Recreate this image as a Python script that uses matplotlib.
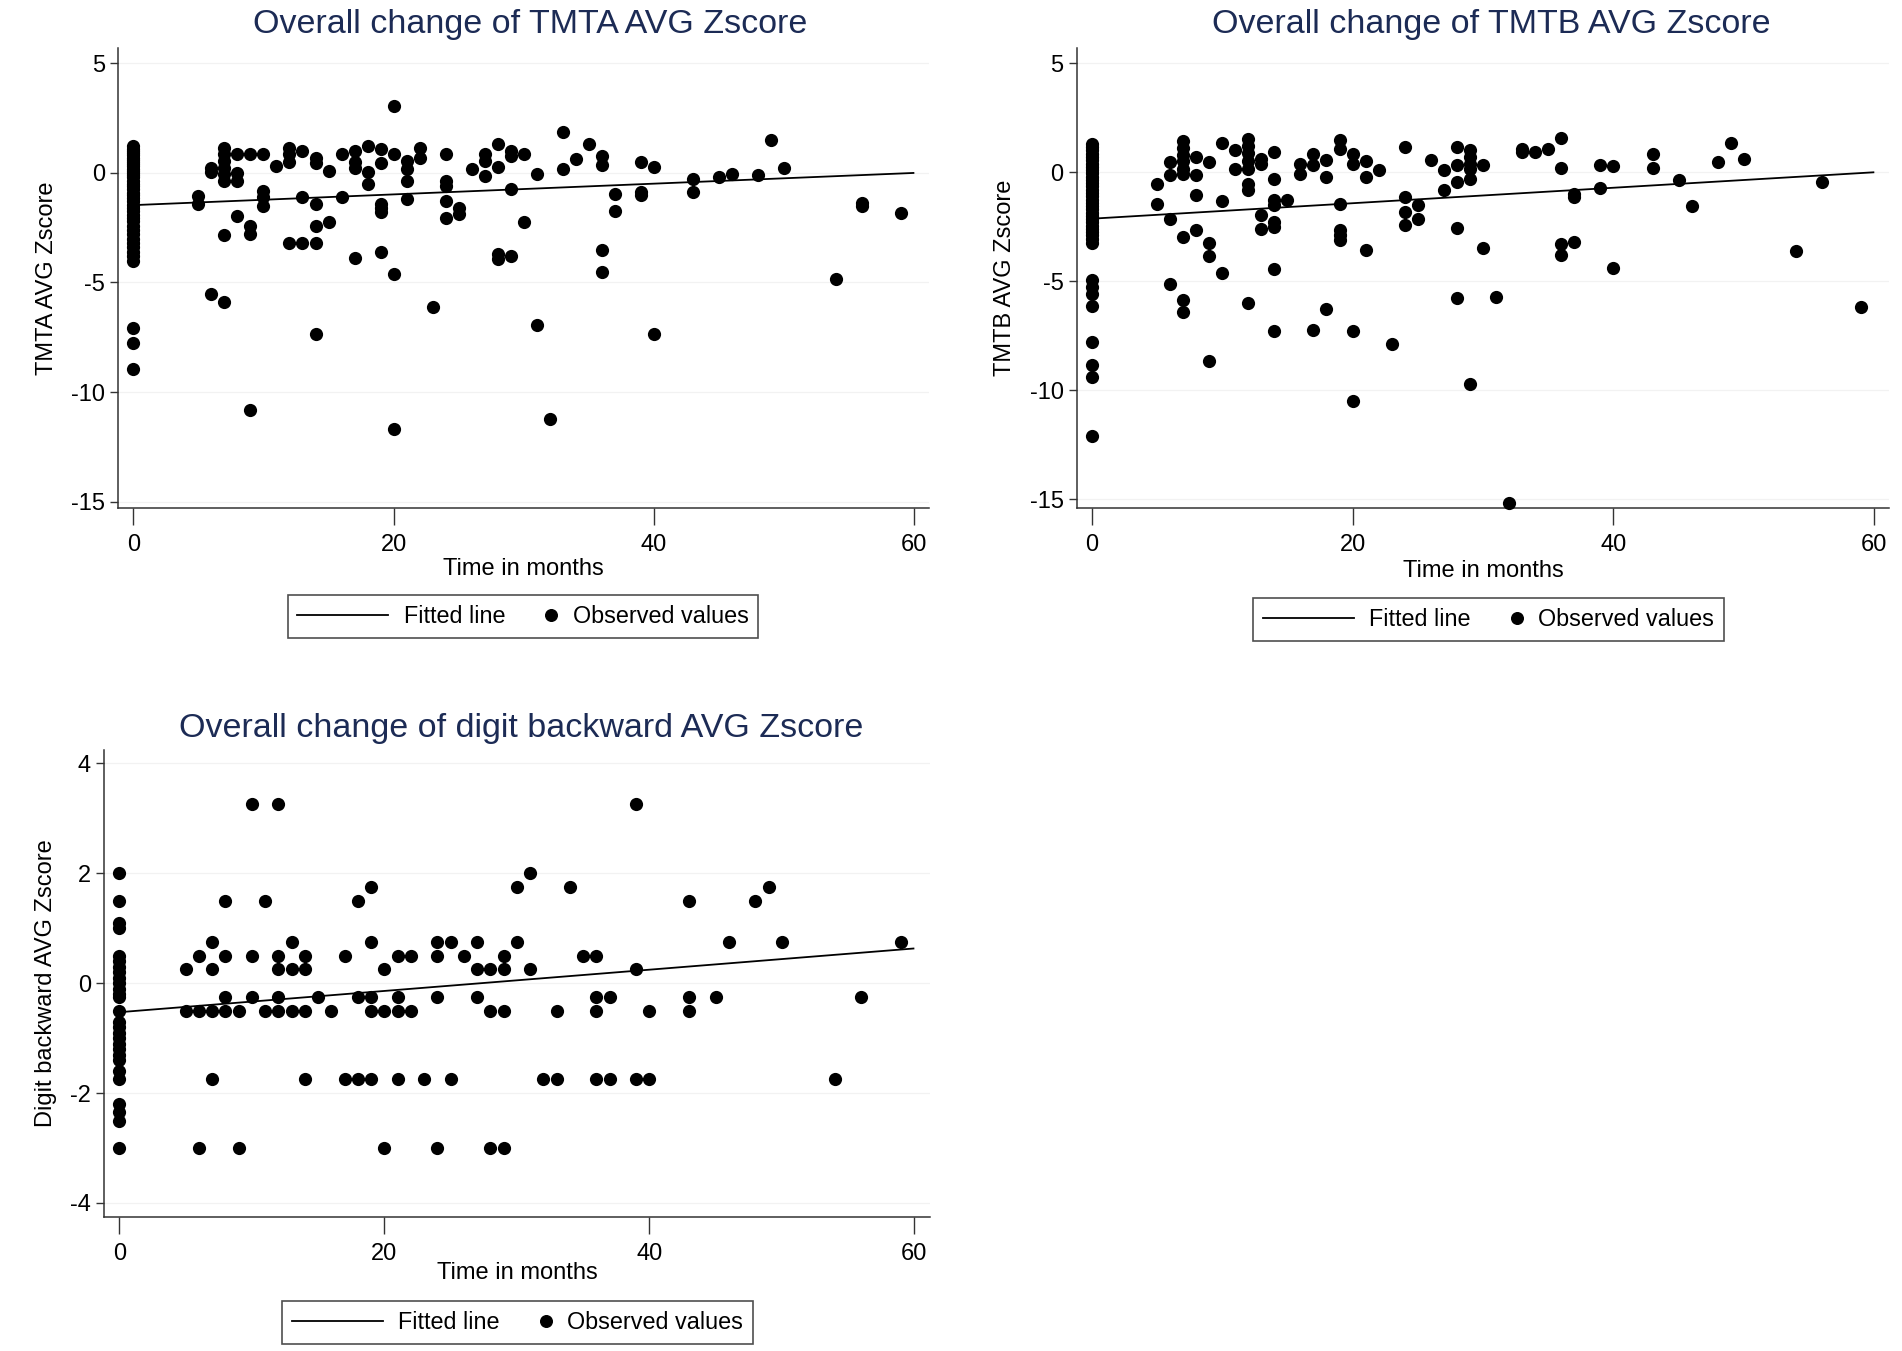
import matplotlib
matplotlib.use('Agg')
import matplotlib.pyplot as plt
from matplotlib.lines import Line2D
from matplotlib.legend_handler import HandlerBase

plt.rcParams['font.family'] = ['Liberation Sans', 'DejaVu Sans']
plt.rcParams['axes.unicode_minus'] = False

# ---------------- data ----------------
x_ticks = [0, 20, 40, 60]
fit_x = [0, 60]

# TMTA
tmta_months = [0, 5, 6, 7, 8, 9, 10, 11, 12, 13, 14, 15, 16, 17, 18, 19, 20, 21, 22, 23,
               24, 25, 26, 27, 28, 29, 30, 31, 32, 33, 34, 35, 36, 37, 39, 40, 43, 45,
               46, 48, 49, 50, 54, 56, 59]
tmta_values = [
    [1.25, 1.1, 1.0, 0.9, 0.8, 0.7, 0.6, 0.5, 0.4, 0.3, 0.2, 0.1, 0.0, -0.1, -0.2, -0.35,
     -0.5, -0.6, -0.75, -0.9, -1.0, -1.15, -1.3, -1.45, -1.6, -1.75, -1.9, -2.05, -2.2,
     -2.4, -2.6, -2.8, -3.0, -3.2, -3.4, -3.6, -3.8, -4.0, -7.08, -7.74, -8.95],
    [-1.05, -1.43],
    [0.24, 0.02, -5.53],
    [1.15, 0.85, 0.55, 0.24, -0.06, -0.36, -2.84, -5.91],
    [0.88, 0.0, -0.36, -1.96],
    [0.85, -2.42, -2.77, -10.82],
    [0.85, -0.82, -1.12, -1.53],
    [0.32],
    [1.15, 0.85, 0.5, -3.2],
    [1.0, -1.09, -3.2],
    [0.7, 0.47, -1.43, -2.42, -3.2, -7.36],
    [0.09, -2.26],
    [0.85, -1.12],
    [1.0, 0.5, 0.24, -3.89],
    [1.23, 0.02, -0.52],
    [1.08, 0.47, -1.43, -1.6, -1.8, -3.63],
    [3.05, 0.85, -4.62, -11.69],
    [0.55, 0.2, -0.36, -1.2],
    [1.15, 0.7],
    [-6.11],
    [0.88, -0.36, -0.6, -1.3, -2.04],
    [-1.58, -1.88],
    [0.2],
    [0.85, 0.55, -0.14],
    [1.34, 0.27, -3.7, -3.94],
    [1.0, 0.78, -0.74, -3.78],
    [0.85, -2.26],
    [-0.03, -6.93],
    [-11.23],
    [1.87, 0.2],
    [0.62],
    [1.34],
    [0.78, 0.36, -3.53, -4.5],
    [-0.97, -1.76],
    [0.52, -0.85, -1.0],
    [0.27, -7.36],
    [-0.29, -0.85],
    [-0.17],
    [-0.03],
    [-0.09],
    [1.52],
    [0.24],
    [-4.85],
    [-1.35, -1.5],
    [-1.85],
]
tmta_fit = [-1.47, 0.0]

# TMTB
tmtb_months = [0, 5, 6, 7, 8, 9, 10, 11, 12, 13, 14, 15, 16, 17, 18, 19, 20, 21, 22, 23,
               24, 25, 26, 27, 28, 29, 30, 31, 32, 33, 34, 35, 36, 37, 39, 40, 43, 45,
               46, 48, 49, 50, 54, 56, 59]
tmtb_values = [
    [1.3, 1.15, 1.0, 0.85, 0.7, 0.55, 0.4, 0.25, 0.1, -0.05, -0.2, -0.35, -0.5, -0.65,
     -0.8, -0.95, -1.1, -1.25, -1.4, -1.55, -1.7, -1.85, -2.0, -2.15, -2.3, -2.45, -2.6,
     -2.75, -2.9, -3.05, -3.25, -4.92, -5.26, -5.57, -6.15, -7.78, -8.85, -9.39, -12.1],
    [-0.52, -1.44],
    [0.47, -0.14, -2.13, -5.14],
    [1.45, 1.1, 0.8, 0.5, 0.15, -0.1, -2.97, -5.87, -6.4],
    [0.7, -0.14, -1.06, -2.63],
    [0.47, -3.23, -3.85, -8.67],
    [1.36, -1.33, -4.62],
    [1.0, 0.17],
    [1.51, 1.2, 0.9, 0.5, 0.17, -0.52, -0.83, -5.98],
    [0.63, 0.4, -1.97, -2.58],
    [0.93, -0.29, -1.28, -1.51, -2.28, -2.51, -4.45, -7.29],
    [-1.28],
    [0.4, -0.06],
    [0.86, 0.32, -7.25],
    [0.58, -0.21, -6.28],
    [1.5, 1.09, -1.47, -2.66, -2.89, -3.12],
    [0.86, 0.4, -7.29, -10.5],
    [0.52, -0.21, -3.55],
    [0.09],
    [-7.86],
    [1.16, -1.13, -1.82, -2.43],
    [-1.51, -2.13],
    [0.55],
    [0.09, -0.83],
    [1.16, 0.32, -0.44, -2.55, -5.76],
    [1.0, 0.7, 0.4, 0.15, -0.29, -9.72],
    [0.32, -3.46],
    [-5.72],
    [-15.17],
    [1.09, 0.93],
    [0.93],
    [1.05],
    [1.57, 0.2, -3.27, -3.81],
    [-1.01, -1.13, -3.2],
    [0.32, -0.7],
    [0.28, -4.39],
    [0.86, 0.2],
    [-0.37],
    [-1.54],
    [0.47],
    [1.35],
    [0.63],
    [-3.61],
    [-0.44],
    [-6.18],
]
tmtb_fit = [-2.13, 0.0]

# Digit backward
digit_months = [0, 5, 6, 7, 8, 9, 10, 11, 12, 13, 14, 15, 16, 17, 18, 19, 20, 21, 22, 23,
                24, 25, 26, 27, 28, 29, 30, 31, 32, 33, 34, 35, 36, 37, 39, 40, 43, 45,
                46, 48, 49, 50, 54, 56, 59]
digit_values = [
    [2.0, 1.5, 1.1, 1.0, 0.5, 0.4, 0.3, 0.2, 0.1, 0.0, -0.1, -0.2, -0.25, -0.5, -0.7,
     -0.8, -0.9, -1.0, -1.1, -1.2, -1.3, -1.4, -1.6, -1.75, -2.2, -2.35, -2.5, -3.0],
    [0.25, -0.5],
    [0.5, -0.5, -3.0],
    [0.75, 0.25, -0.5, -1.75],
    [1.5, 0.5, -0.25, -0.5],
    [-0.5, -3.0],
    [3.25, 0.5, -0.25],
    [1.5, -0.5],
    [3.25, 0.5, 0.25, -0.25, -0.5],
    [0.75, 0.25, -0.5],
    [0.5, 0.25, -0.5, -1.75],
    [-0.25],
    [-0.5],
    [0.5, -1.75],
    [1.5, -0.25, -1.75],
    [1.75, 0.75, -0.25, -0.5, -1.75],
    [0.25, -0.5, -3.0],
    [0.5, -0.25, -0.5, -1.75],
    [0.5, -0.5],
    [-1.75],
    [0.75, 0.5, -0.25, -3.0],
    [0.75, -1.75],
    [0.5],
    [0.75, 0.25, -0.25],
    [0.25, -0.5, -3.0],
    [0.5, 0.25, -0.5, -3.0],
    [1.75, 0.75],
    [2.0, 0.25],
    [-1.75],
    [-0.5, -1.75],
    [1.75],
    [0.5],
    [0.5, -0.25, -0.5, -1.75],
    [-0.25, -1.75],
    [3.25, 0.25, -1.75],
    [-0.5, -1.75],
    [1.5, -0.25, -0.5],
    [-0.25],
    [0.75],
    [1.5],
    [1.75],
    [0.75],
    [-1.75],
    [-0.25],
    [0.75],
]
digit_fit = [-0.53, 0.63]

# ---------------- figure ----------------
W, H = 1902, 1351
DPI = 100
fig = plt.figure(figsize=(W / DPI, H / DPI), dpi=DPI, facecolor='white')

TITLE_COLOR = '#1c2b55'
MARKER_MS = 9.5


class RightMarkerHandler(HandlerBase):
    def legend_artist(self, legend, orig_handle, fontsize, handlebox):
        handlebox.width = 0.55 * fontsize
        y = (handlebox.height - handlebox.ydescent) / 2
        m = Line2D([handlebox.width / 2], [y], marker='o', linestyle='none',
                   color='black', markersize=MARKER_MS * 0.88)
        m.set_transform(handlebox.get_transform())
        handlebox.add_artist(m)
        return m


def px_axes(l, t, r, b):
    return fig.add_axes([l / W, 1 - b / H, (r - l) / W, (b - t) / H])


def panel(box, xlim, ylim, yticks, months, values, fit_y, title, title_xy,
          ylabel, ylab_xfrac, xlab_yfrac, leg_c):
    ax = px_axes(*box)
    xs = [m for m, vs in zip(months, values) for _ in vs]
    ys = [v for vs in values for v in vs]
    for y in yticks:
        ax.axhline(y, color='#f2f2f2', lw=0.9, zorder=0)
    ax.plot(fit_x, fit_y, color='black', lw=1.3, zorder=3, solid_capstyle='butt')
    ax.plot(xs, ys, linestyle='none', marker='o', color='black',
            markersize=MARKER_MS, markeredgewidth=0, zorder=4, clip_on=False)
    ax.set_xlim(*xlim)
    ax.set_ylim(*ylim)
    ax.set_xticks(x_ticks)
    ax.set_yticks(yticks)
    for s in ('top', 'right'):
        ax.spines[s].set_visible(False)
    for s in ('left', 'bottom'):
        ax.spines[s].set_color('#333333')
        ax.spines[s].set_linewidth(1.1)
    ax.tick_params(axis='x', length=12, width=1.0, pad=7, labelsize=17, color='#333333')
    ax.tick_params(axis='y', length=5.5, width=1.0, pad=4, labelsize=17, color='#333333')
    ax.set_xlabel('Time in months', fontsize=17, va='center')
    ax.xaxis.set_label_coords(0.5, xlab_yfrac)
    ax.set_ylabel(ylabel, fontsize=17, va='center')
    ax.yaxis.set_label_coords(ylab_xfrac, 0.5)
    fig.text(title_xy[0] / W, 1 - title_xy[1] / H, title, fontsize=24.5,
             color=TITLE_COLOR, ha='center', va='center')
    h_line = Line2D([], [], color='black', lw=1.3)
    h_mark = Line2D([], [], color='black', marker='o', linestyle='none')
    leg = fig.legend([h_line, h_mark], ['Fitted line', 'Observed values'],
                     loc='center', bbox_to_anchor=(leg_c[0] / W, 1 - leg_c[1] / H),
                     ncol=2, fontsize=16.8, handlelength=3.9, handletextpad=0.65,
                     columnspacing=1.7, borderpad=0.42, fancybox=False,
                     frameon=True, edgecolor='#222222',
                     handler_map={h_mark: RightMarkerHandler()})
    leg.get_frame().set_linewidth(1.2)
    return ax


panel((118.3, 48, 929.3, 508), (-1.15, 61.15), (-15.29, 5.70), [-15, -10, -5, 0, 5],
      tmta_months, tmta_values, tmta_fit,
      'Overall change of TMTA AVG Zscore', (530, 24),
      'TMTA AVG Zscore', -0.088, -0.133, (523, 616.5))

panel((1076.7, 48, 1889.3, 508), (-1.15, 61.15), (-15.40, 5.70), [-15, -10, -5, 0, 5],
      tmtb_months, tmtb_values, tmtb_fit,
      'Overall change of TMTB AVG Zscore', (1491, 24),
      'TMTB AVG Zscore', -0.088, -0.137, (1488.5, 619.5))

panel((104.3, 750, 930, 1216.7), (-1.13, 61.18), (-4.25, 4.24), [-4, -2, 0, 2, 4],
      digit_months, digit_values, digit_fit,
      'Overall change of digit backward AVG Zscore', (521, 728),
      'Digit backward AVG Zscore', -0.0706, -0.121, (517.5, 1322.5))

fig.savefig('out.png', dpi=DPI, facecolor='white')
